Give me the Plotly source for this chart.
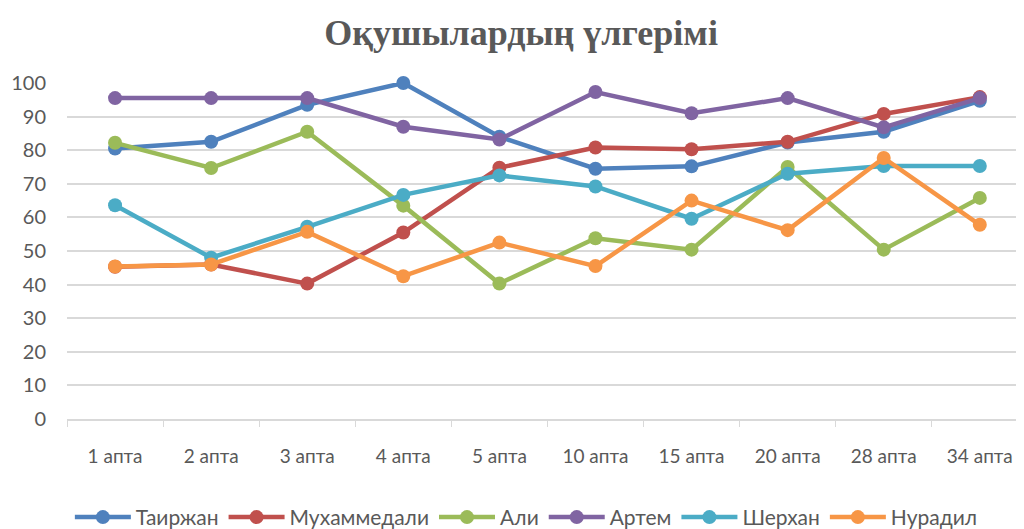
import plotly.graph_objects as go

categories = ["1 апта", "2 апта", "3 апта", "4 апта", "5 апта", "10 апта", "15 апта", "20 апта", "28 апта", "34 апта"]

tairzhan = [80.5, 82.5, 93.5, 100, 84, 74.5, 75.2, 82.3, 85.5, 94.7]
mukhammedali = [45.3, 46, 40.3, 55.5, 74.8, 80.8, 80.3, 82.5, 90.8, 95.8]
ali = [82.2, 74.7, 85.5, 63.5, 40.3, 53.8, 50.4, 75, 50.4, 65.8]
artem = [95.5, 95.5, 95.5, 87, 83.2, 97.3, 91, 95.5, 86.8, 95.5]
sherkhan = [63.6, 48, 57.2, 66.7, 72.5, 69.2, 59.6, 73, 75.3, 75.3]
nuradil = [45.4, 46, 55.7, 42.5, 52.5, 45.5, 65, 56.2, 77.7, 57.8]

series_names = ["Таиржан", "Мухаммедали", "Али", "Артем", "Шерхан", "Нурадил"]
series_values = [tairzhan, mukhammedali, ali, artem, sherkhan, nuradil]
colors = ["#4F81BD", "#C0504D", "#9BBB59", "#8064A2", "#4BACC6", "#F79646"]

y_ticks = list(range(0, 101, 10))

fig = go.Figure()
for name, vals, col in zip(series_names, series_values, colors):
    fig.add_trace(go.Scatter(
        x=categories, y=vals, name=name, mode="lines+markers",
        line=dict(color=col, width=4.5),
        marker=dict(color=col, size=14),
        cliponaxis=False,
    ))

fig.update_layout(
    width=1016, height=521,
    margin=dict(l=59, r=0, t=75, b=110, autoexpand=False),
    paper_bgcolor="white", plot_bgcolor="white",
    title=dict(
        text="<b>Оқушылардың үлгерімі</b>",
        x=0.505, xanchor="center", y=0.954, yanchor="middle",
        font=dict(family="Liberation Serif", size=36, color="#595959"),
    ),
    font=dict(family="Lato", color="#595959", size=20),
    showlegend=True,
    legend=dict(
        orientation="h", x=0.48, xanchor="center", y=-0.293, yanchor="middle",
        font=dict(family="Lato", size=21, color="#595959"),
        itemwidth=56, traceorder="normal",
    ),
)

fig.update_xaxes(
    type="category", range=[-0.5, 9.46], automargin=False,
    showline=True, linecolor="#d9d9d9", linewidth=1.5,
    ticks="outside", tickson="boundaries", ticklen=6, tickcolor="#d9d9d9",
    showgrid=False, ticklabelstandoff=19,
    tickfont=dict(family="Lato", size=19, color="#595959"),
)
fig.update_yaxes(
    range=[0, 100], tickvals=y_ticks, automargin=False,
    showgrid=True, gridcolor="#d9d9d9", gridwidth=1.5,
    zeroline=False, showline=False, ticks="",
    ticklabelstandoff=20,
    tickfont=dict(family="Lato", size=20, color="#595959"),
)

fig.write_html("out.html")
